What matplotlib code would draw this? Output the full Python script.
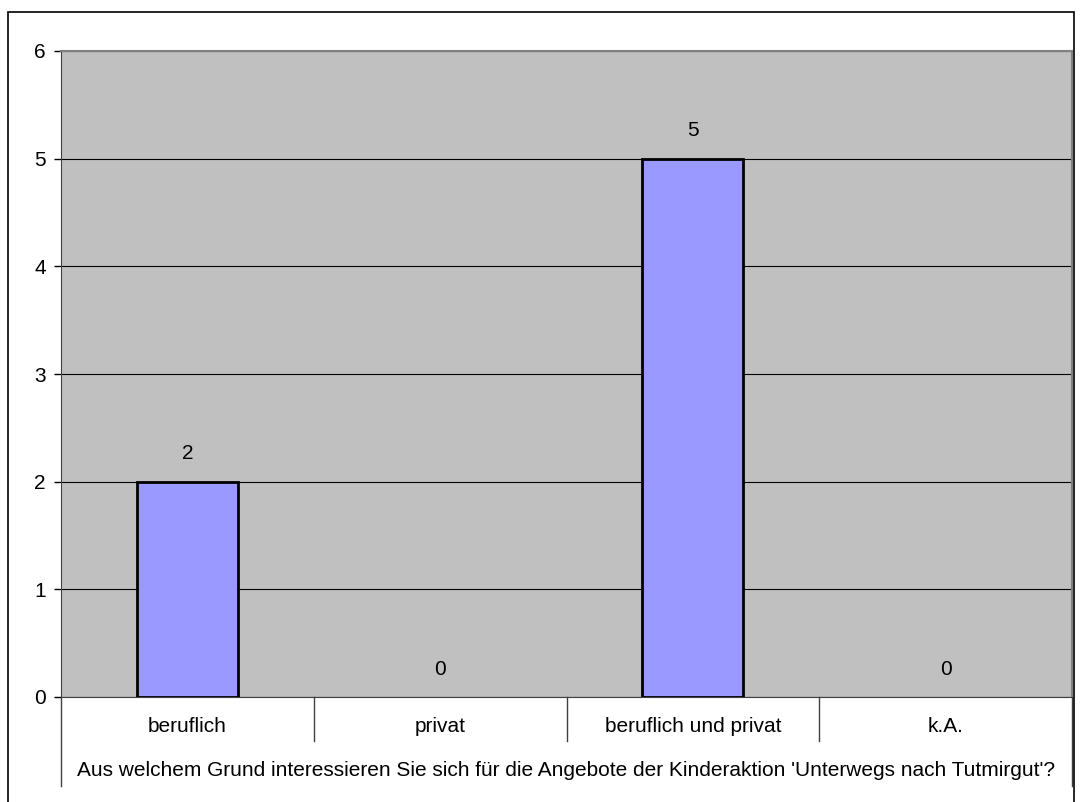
import matplotlib
matplotlib.use("Agg")
import matplotlib.pyplot as plt
from matplotlib.patches import Rectangle
from matplotlib.lines import Line2D

categories = ['beruflich', 'privat', 'beruflich und privat', 'k.A.']
counts = [2, 0, 5, 0]
question = "Aus welchem Grund interessieren Sie sich für die Angebote der Kinderaktion 'Unterwegs nach Tutmirgut'?"

plt.rcParams['font.family'] = ['Liberation Sans', 'DejaVu Sans']
FS = 15

W, H = 1080, 802
fig = plt.figure(figsize=(W / 100, H / 100), dpi=100)
fig.patch.set_facecolor('white')

# outer chart frame (bottom edge runs off the picture)
fig.add_artist(Rectangle((8 / W, -0.02), 1066 / W, 1.02 - 12 / H, transform=fig.transFigure,
                         fill=False, edgecolor='black', linewidth=1.2))

left, right, top, bottom = 61, 1072, 51, 697
ax = fig.add_axes([left / W, 1 - bottom / H, (right - left) / W, (bottom - top) / H])
ax.set_facecolor('#c0c0c0')

x = list(range(len(categories)))
ax.set_xlim(-0.5, len(categories) - 0.5)
ax.set_ylim(0, 6)
ax.set_yticks(range(0, 7))
ax.yaxis.grid(True, color='black', linewidth=0.8)
ax.set_axisbelow(True)

bars = ax.bar(x, counts, width=0.4, color='#9999ff', edgecolor='black', linewidth=2, zorder=3)
for b, v in zip(bars, counts):
    if v == 0:
        b.set_linewidth(0)
for xi, v in zip(x, counts):
    ax.text(xi, v + 0.26, str(v), ha='center', va='center', fontsize=FS)

ax.set_xticks([])
ax.tick_params(axis='y', length=5, width=1, labelsize=FS, pad=6, color='black')
for s in ['top', 'right']:
    ax.spines[s].set_color('#808080')
    ax.spines[s].set_linewidth(1.5)
ax.spines['left'].set_color('#404040')
ax.spines['bottom'].set_color('#404040')

# category table below the axis
trans = ax.get_xaxis_transform()
px = (bottom - top)
def yax(ypix):
    return (bottom - ypix) / px

for i in range(len(categories) + 1):
    xb = i - 0.5
    yend = 786 if i in (0, len(categories)) else 741
    ax.add_line(Line2D([xb, xb], [0, yax(yend)], transform=trans, color='#404040',
                       linewidth=1, clip_on=False))
for xi, c in zip(x, categories):
    ax.text(xi, yax(727), c, transform=trans, ha='center', va='center', fontsize=FS)
ax.text(1.5, yax(770), question, transform=trans, ha='center', va='center', fontsize=FS)

fig.savefig('out.png', dpi=100)
